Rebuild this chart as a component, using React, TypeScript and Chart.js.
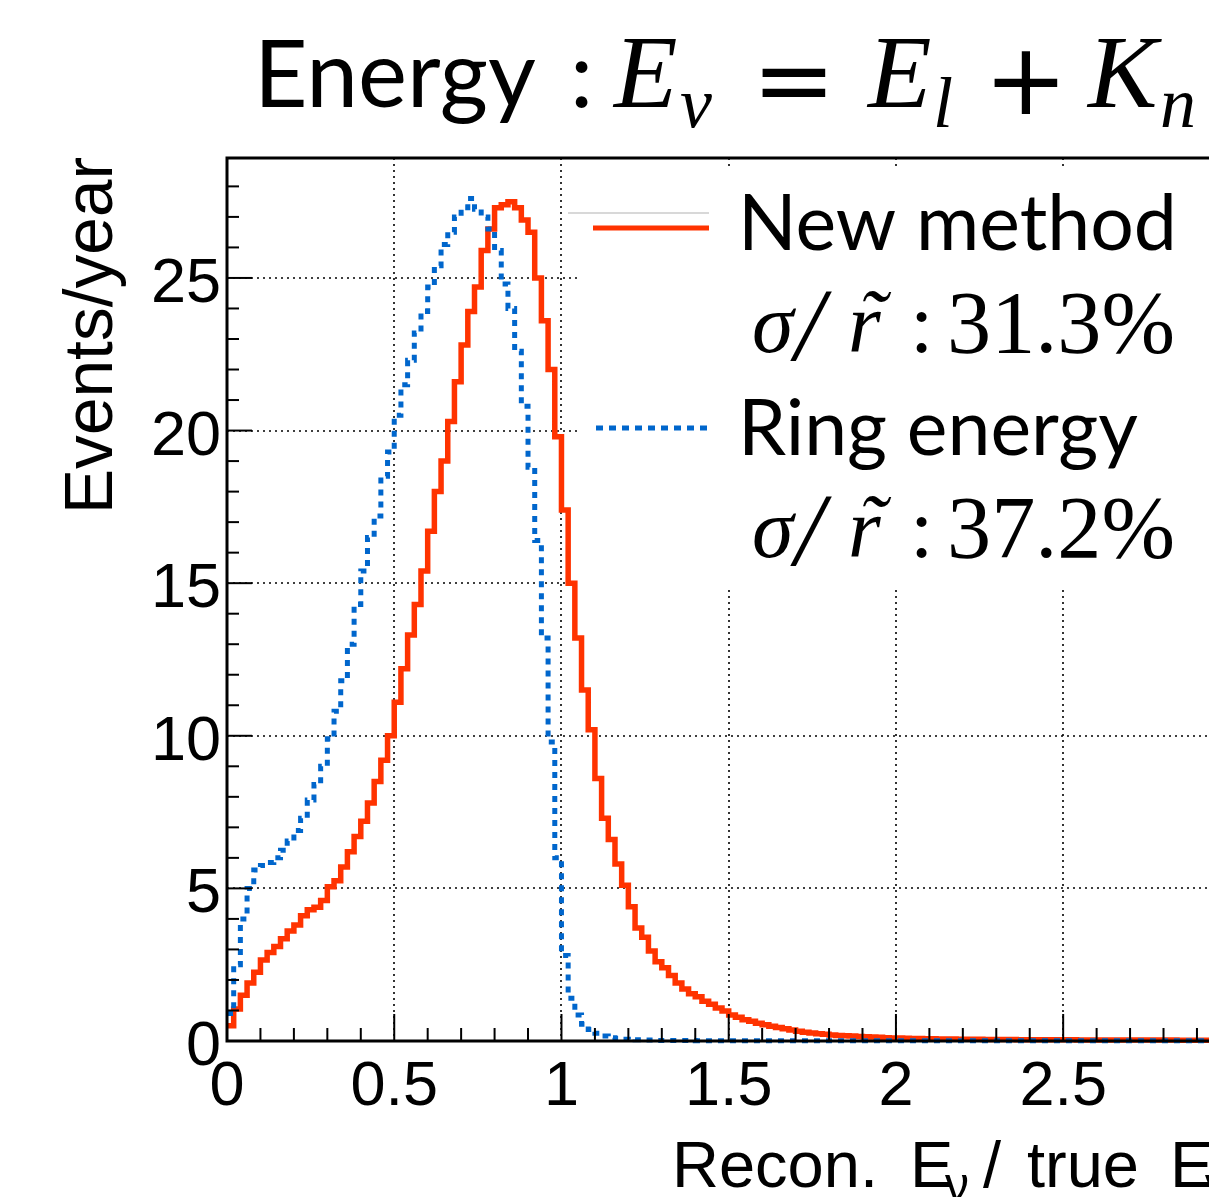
import { useEffect, useRef } from "react";
import { Chart, registerables } from "chart.js";

Chart.register(...registerables);

// ---------------- data ----------------
const BIN_WIDTH = 0.02; // histogram bin width (x units), bins start at 0

// "New method" (red, solid) – events/year per bin
const NEW_METHOD = [
  0.5, 1.05, 1.5, 1.9, 2.25, 2.65, 2.9, 3.1, 3.35, 3.6,
  3.8, 4.1, 4.3, 4.38, 4.6, 5.05, 5.25, 5.7, 6.2, 6.7,
  7.2, 7.8, 8.5, 9.2, 10.0, 11.1, 12.2, 13.3, 14.3, 15.4,
  16.7, 18.0, 19.0, 20.3, 21.6, 22.8, 23.9, 24.7, 25.9, 26.6,
  27.3, 27.4, 27.5, 27.3, 26.9, 26.5, 25.0, 23.6, 22.0, 19.8,
  17.4, 15.0, 13.2, 11.5, 10.2, 8.6, 7.3, 6.6, 5.8, 5.1,
  4.4, 3.7, 3.4, 2.95, 2.6, 2.4, 2.15, 1.9, 1.7, 1.55,
  1.45, 1.3, 1.2, 1.08, 0.98, 0.85, 0.78, 0.7, 0.65, 0.58,
  0.53, 0.48, 0.44, 0.4, 0.36, 0.32, 0.29, 0.26, 0.24, 0.22,
  0.2, 0.18, 0.17, 0.16, 0.15, 0.14, 0.13, 0.12, 0.11, 0.1,
  0.095, 0.09, 0.085, 0.08, 0.076, 0.072, 0.068, 0.065, 0.062, 0.06,
  0.058, 0.056, 0.054, 0.052, 0.05, 0.048, 0.047, 0.046, 0.045, 0.044,
  0.043, 0.042, 0.041, 0.04, 0.039, 0.038, 0.037, 0.036, 0.035, 0.034,
  0.034, 0.033, 0.033, 0.032, 0.032, 0.031, 0.031, 0.03, 0.03, 0.03,
  0.029, 0.029, 0.028, 0.028, 0.028, 0.027, 0.027, 0.026, 0.026, 0.025,
];

// "Ring energy" (blue, dotted) – events/year per bin
const RING_ENERGY = [
  0.9, 2.5, 4.0, 5.0, 5.6, 5.75, 5.85, 6.0, 6.25, 6.55,
  6.9, 7.3, 7.9, 8.4, 9.0, 9.9, 10.8, 11.8, 13.0, 14.3,
  15.4, 16.5, 17.2, 18.5, 19.3, 20.5, 21.5, 22.3, 23.2, 23.9,
  24.7, 25.4, 26.1, 26.5, 27.0, 27.3, 27.6, 27.25, 27.0, 26.6,
  25.9, 24.8, 24.0, 22.6, 20.8, 18.8, 16.4, 13.2, 9.8, 6.0,
  2.8, 1.4, 0.85, 0.55, 0.38, 0.25, 0.16, 0.11, 0.08, 0.06,
  0.05, 0.04, 0.03, 0.03, 0.02, 0.02, 0.02, 0.02, 0.02, 0.02,
  0.01, 0.01, 0.01, 0.01, 0.01, 0.01, 0.01, 0.01, 0.01, 0.01,
  0.01, 0.01, 0.01, 0.01, 0.01, 0.01, 0.01, 0.01, 0.01, 0.01,
  0.01, 0.01, 0.01, 0.01, 0.01, 0.01, 0.01, 0.01, 0.01, 0.01,
  0.01, 0.01, 0.01, 0.01, 0.01, 0.01, 0.01, 0.01, 0.01, 0.01,
  0.01, 0.01, 0.01, 0.01, 0.01, 0.01, 0.01, 0.01, 0.01, 0.01,
  0.01, 0.01, 0.01, 0.01, 0.01, 0.01, 0.01, 0.01, 0.01, 0.01,
  0.01, 0.01, 0.01, 0.01, 0.01, 0.01, 0.01, 0.01, 0.01, 0.01,
  0.01, 0.01, 0.01, 0.01, 0.01, 0.01, 0.01, 0.01, 0.01, 0.01,
];

const X_MAJOR_TICKS = [0, 0.5, 1, 1.5, 2, 2.5];
const X_TICK_LABELS = ["0", "0.5", "1", "1.5", "2", "2.5"];
const X_MINOR_STEP = 0.1;
const Y_MAJOR_TICKS = [0, 5, 10, 15, 20, 25];
const Y_TICK_LABELS = ["0", "5", "10", "15", "20", "25"];
const Y_MINOR_STEP = 1;
const X_MAX = 2.936;
const Y_MAX = 28.93;

const SERIES_NAMES = ["New method", "Ring energy"];
const RESOLUTIONS = ["31.3%", "37.2%"];

const RED = "#ff3300";
const BLUE = "#0066cc";

// ---------------- layout ----------------
const W = 1209;
const H = 1197;
const SANS = '"Liberation Sans", Arial, sans-serif';
const CAL = '"Lato", "Open Sans", sans-serif';
const MATH = '"Liberation Serif", "DejaVu Serif", serif';
const SYM = '"DejaVu Sans", sans-serif';

function toPoints(values: number[]) {
  const pts = values.map((v, i) => ({ x: i * BIN_WIDTH, y: v }));
  pts.push({ x: values.length * BIN_WIDTH, y: values[values.length - 1] });
  return pts;
}

function fitSize(ctx: CanvasRenderingContext2D, text: string, fontTpl: (s: number) => string, width: number) {
  ctx.font = fontTpl(100);
  const w = ctx.measureText(text).width;
  return (100 * width) / w;
}

function drawLine(ctx: CanvasRenderingContext2D, x1: number, y1: number, x2: number, y2: number) {
  ctx.beginPath();
  ctx.moveTo(x1, y1);
  ctx.lineTo(x2, y2);
  ctx.stroke();
}

const decorPlugin = {
  id: "decor",
  beforeDatasetsDraw(chart: any) {
    const { ctx, chartArea: a, scales } = chart;
    const xs = scales.x;
    const ys = scales.y;
    ctx.save();
    ctx.strokeStyle = "#000";
    ctx.lineWidth = 1.6;
    ctx.setLineDash([2, 4]);
    for (const v of Y_MAJOR_TICKS) {
      if (v === 0) continue;
      const py = Math.round(ys.getPixelForValue(v));
      drawLine(ctx, a.left, py, a.right, py);
    }
    for (const v of X_MAJOR_TICKS) {
      if (v === 0) continue;
      const px = Math.round(xs.getPixelForValue(v));
      drawLine(ctx, px, a.top, px, a.bottom);
    }
    ctx.setLineDash([]);
    // legend box (white fill hides grid)
    ctx.fillStyle = "#ffffff";
    ctx.fillRect(580, 170, W - 580, 417);
    ctx.restore();
  },
  afterDatasetsDraw(chart: any) {
    const { ctx, chartArea: a, scales } = chart;
    const xs = scales.x;
    const ys = scales.y;
    ctx.save();

    // frame
    ctx.strokeStyle = "#000";
    ctx.lineWidth = 3;
    ctx.beginPath();
    ctx.moveTo(W + 5, a.top);
    ctx.lineTo(a.left, a.top);
    ctx.lineTo(a.left, a.bottom);
    ctx.lineTo(W + 5, a.bottom);
    ctx.stroke();

    // ticks
    ctx.lineWidth = 2;
    const nY = Math.floor(Y_MAX / Y_MINOR_STEP);
    for (let k = 0; k <= nY; k++) {
      const v = k * Y_MINOR_STEP;
      const py = ys.getPixelForValue(v);
      const major = Y_MAJOR_TICKS.includes(v);
      drawLine(ctx, a.left, py, a.left + (major ? 25 : 12), py);
    }
    const nX = Math.floor(X_MAX / X_MINOR_STEP + 1e-6);
    for (let k = 0; k <= nX; k++) {
      const v = Math.round(k * X_MINOR_STEP * 10) / 10;
      const px = xs.getPixelForValue(v);
      const major = X_MAJOR_TICKS.includes(v);
      drawLine(ctx, px, a.bottom, px, a.bottom - (major ? 27 : 13));
    }

    // tick labels
    ctx.fillStyle = "#000";
    ctx.font = `63px ${SANS}`;
    ctx.textBaseline = "alphabetic";
    ctx.textAlign = "right";
    Y_MAJOR_TICKS.forEach((v, i) => {
      ctx.fillText(Y_TICK_LABELS[i], 221, ys.getPixelForValue(v) + 24);
    });
    ctx.textAlign = "center";
    X_MAJOR_TICKS.forEach((v, i) => {
      ctx.fillText(X_TICK_LABELS[i], xs.getPixelForValue(v), 1105);
    });

    // y-axis title
    ctx.save();
    ctx.translate(112, 514);
    ctx.rotate(-Math.PI / 2);
    ctx.textAlign = "left";
    const ySize = fitSize(ctx, "Events/year", (s) => `${s}px ${SANS}`, 357);
    ctx.font = `${ySize}px ${SANS}`;
    ctx.fillText("Events/year", 0, 0);
    ctx.restore();

    // x-axis title
    ctx.textAlign = "left";
    ctx.font = `65px ${SANS}`;
    ctx.fillText("Recon.", 672, 1187);
    ctx.fillText("E", 910, 1187);
    ctx.fillText("/", 983, 1187);
    ctx.fillText("true", 1027, 1187);
    ctx.fillText("E", 1170, 1187);
    ctx.font = `48px ${SANS}`;
    ctx.fillText("\u03BD", 945, 1201);
    ctx.fillText("\u03BD", 1205, 1201);

    // legend
    ctx.strokeStyle = "#d8d8d8";
    ctx.lineWidth = 2;
    drawLine(ctx, 568, 213, 709, 213);
    ctx.strokeStyle = RED;
    ctx.lineWidth = 5;
    drawLine(ctx, 593, 228, 709, 228);
    ctx.strokeStyle = BLUE;
    ctx.lineWidth = 5;
    ctx.setLineDash([7, 6]);
    drawLine(ctx, 596, 428, 709, 428);
    ctx.setLineDash([]);

    const legSize = fitSize(ctx, SERIES_NAMES[0], (s) => `${s}px ${CAL}`, 439);
    ctx.font = `${legSize}px ${CAL}`;
    ctx.fillStyle = "#000";
    ctx.fillText(SERIES_NAMES[0], 738, 250);
    ctx.fillText(SERIES_NAMES[1], 738, 455);

    const drawRes = (val: string, base: number) => {
      ctx.font = `italic 84px ${MATH}`;
      ctx.fillText("\u03C3", 752, base);
      ctx.font = `italic 104px ${MATH}`;
      ctx.fillText("/", 795, base + 8);
      ctx.font = `italic 84px ${MATH}`;
      ctx.fillText("r", 848, base);
      ctx.fillText("\u02DC", 858, base - 4);
      ctx.font = `84px ${MATH}`;
      ctx.fillText(":", 910, base);
      const s = fitSize(ctx, val, (z) => `${z}px ${MATH}`, 228);
      ctx.font = `${s}px ${MATH}`;
      ctx.fillText(val, 947, base);
    };
    drawRes(RESOLUTIONS[0], 352);
    drawRes(RESOLUTIONS[1], 557);

    // title
    const tSize = fitSize(ctx, "Energy", (s) => `${s}px ${CAL}`, 282);
    ctx.font = `${tSize}px ${CAL}`;
    ctx.fillText("Energy", 254, 107);
    ctx.fillText(":", 570, 107);
    ctx.font = `italic 104px ${MATH}`;
    ctx.fillText("E", 614, 107);
    ctx.fillText("E", 868, 107);
    ctx.fillText("K", 1088, 107);
    ctx.font = `100px ${SYM}`;
    ctx.fillText("=", 752, 114);
    ctx.fillText("+", 984, 114);
    ctx.font = `italic 72px ${MATH}`;
    ctx.fillText("\u03BD", 680, 127);
    ctx.fillText("l", 933, 127);
    ctx.fillText("n", 1160, 127);

    ctx.restore();
  },
};

export default function App() {
  const ref = useRef<HTMLCanvasElement | null>(null);
  useEffect(() => {
    if (!ref.current) return;
    const chart = new Chart(ref.current, {
      type: "line",
      data: {
        datasets: [
          {
            label: SERIES_NAMES[1],
            data: toPoints(RING_ENERGY),
            borderColor: BLUE,
            borderWidth: 5,
            borderDash: [6, 6],
            stepped: true,
            pointRadius: 0,
            fill: false,
            clip: false,
          } as any,
          {
            label: SERIES_NAMES[0],
            data: toPoints(NEW_METHOD),
            borderColor: RED,
            borderWidth: 5.5,
            stepped: true,
            pointRadius: 0,
            fill: false,
            clip: false,
          } as any,
        ],
      },
      options: {
        animation: false,
        responsive: false,
        devicePixelRatio: 1,
        layout: { padding: { left: 227, top: 158, right: 0, bottom: 156 } },
        scales: {
          x: { type: "linear", min: 0, max: X_MAX, display: false },
          y: { type: "linear", min: 0, max: Y_MAX, display: false },
        },
        plugins: {
          legend: { display: false },
          tooltip: { enabled: false },
          title: { display: false },
        },
        events: [],
      },
      plugins: [decorPlugin],
    });
    return () => chart.destroy();
  }, []);
  return (
    <div style={{ position: "absolute", left: 0, top: 0, width: W, height: H, overflow: "hidden", background: "#fff" }}>
      <canvas ref={ref} width={W} height={H} style={{ display: "block" }} />
    </div>
  );
}
